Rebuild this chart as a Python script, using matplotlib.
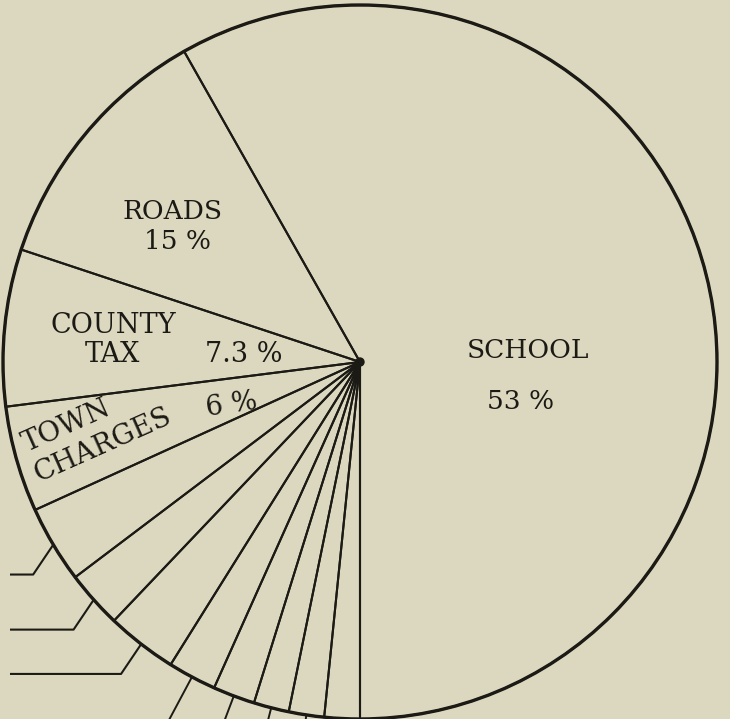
import numpy as np
import matplotlib
matplotlib.use("Agg")
import matplotlib.pyplot as plt
from matplotlib.patches import Circle

# slice shares as drawn in the scan (percent of the circle), counter-clockwise from the bottom
slices = ["SCHOOL", "ROADS", "COUNTY TAX", "TOWN CHARGES",
          "s1", "s2", "s3", "s4", "s5", "s6", "s7", "s8"]
shares = [58.2, 11.7, 7.1, 4.8, 3.5, 2.6, 3.2, 2.2, 1.9, 1.6, 1.6, 1.6]
printed = ["53 %", "15 %", "7.3 %", "6 %"]

bg = "#dcd8c0"
ink = "#1c1a14"

W, H = 730, 719
fig = plt.figure(figsize=(W / 100, H / 100), dpi=100)
fig.patch.set_facecolor(bg)
ax = fig.add_axes([0, 0, 1, 1])
ax.set_facecolor(bg)

cx, cy, r = 360, H - 362, 357

wedges, _ = ax.pie(shares, startangle=270, counterclock=True, center=(cx, cy), radius=r,
                   frame=True,
                   wedgeprops=dict(fill=False, edgecolor=ink, linewidth=1.5))
ax.add_patch(Circle((cx, cy), r, fill=False, edgecolor=ink, linewidth=2.4, zorder=3))
ax.add_patch(Circle((cx, cy), 4, color=ink, zorder=4))

# leader lines for the small slices (labels are outside the crop)
for i, w in enumerate(wedges[4:]):
    a = np.deg2rad((w.theta1 + w.theta2) / 2)
    px, py = cx + r * np.cos(a), cy + r * np.sin(a)
    if i < 3:
        d = np.deg2rad(236)
        qx, qy = px + 36 * np.cos(d), py + 36 * np.sin(d)
        ax.plot([px, qx, 10], [py, qy, qy], color=ink, lw=1.5, solid_capstyle="butt")
    else:
        ax.plot([px, px + 80 * np.cos(a)], [py, py + 80 * np.sin(a)], color=ink, lw=1.4)

font = dict(family="DejaVu Serif", color=ink)
ax.text(172, H - 219, "ROADS", ha="center", va="baseline", fontsize=19, **font)
ax.text(178, H - 249, printed[1], ha="center", va="baseline", fontsize=19, **font)
ax.text(113, H - 333, "COUNTY", ha="center", va="baseline", fontsize=19.5, **font)
ax.text(112, H - 362, "TAX", ha="center", va="baseline", fontsize=19.5, **font)
ax.text(244, H - 362, printed[2], ha="center", va="baseline", fontsize=19.5, **font)
ax.text(27, H - 452, "TOWN", ha="left", va="baseline", rotation=24,
        rotation_mode="anchor", fontsize=20, **font)
ax.text(38, H - 482, "CHARGES", ha="left", va="baseline", rotation=24,
        rotation_mode="anchor", fontsize=20, **font)
ax.text(233, H - 412, printed[3], ha="center", va="baseline", rotation=8,
        rotation_mode="anchor", fontsize=19.5, **font)
ax.text(528, H - 358, "SCHOOL", ha="center", va="baseline", fontsize=19, **font)
ax.text(521, H - 409, printed[0], ha="center", va="baseline", fontsize=19, **font)

ax.set_xlim(0, W)
ax.set_ylim(0, H)
ax.set_aspect("equal")
ax.axis("off")

fig.savefig("out.png", dpi=100, facecolor=bg)
